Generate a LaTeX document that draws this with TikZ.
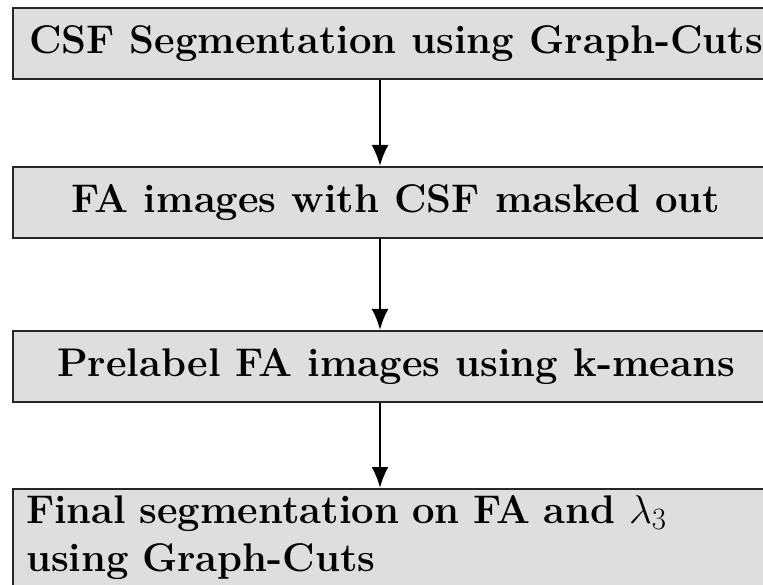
\RequirePackage{fix-cm}
\documentclass[tikz,border=0pt]{standalone}
\usetikzlibrary{arrows.meta}
\DeclareMathSizes{40}{40}{31}{22}
\begin{document}
\begin{tikzpicture}[x=1pt,y=1pt,
  box/.style={draw=black!85, line width=2pt, fill=black!13, inner sep=0pt,
    minimum width=766pt, minimum height=71pt, font=\fontsize{40}{48}\selectfont\bfseries},
  arr/.style={line width=2.6pt, -{Latex[length=21pt,width=17pt]}}]
\useasboundingbox (0,0) rectangle (763,-585);
\node[box, anchor=north west, align=left, text width=740pt, minimum height=0pt, inner xsep=13pt, inner ysep=6pt] (b4) at (12,-488) {Final segmentation on FA and $\lambda_3$\\using Graph-Cuts\rule[-20pt]{0pt}{0pt}};
\node[box, anchor=north west, align=center] (b1) at (12,-7) {CSF Segmentation using Graph-Cuts};
\node[box, anchor=north west, align=center] (b2) at (12,-166) {FA images with CSF masked out};
\node[box, anchor=north west, align=center] (b3) at (12,-330) {Prelabel FA images using k-means};
\draw[arr] (b1.south -| 380,0) -- (b2.north -| 380,0);
\draw[arr] (b2.south -| 380,0) -- (b3.north -| 380,0);
\draw[arr] (b3.south -| 380,0) -- (b4.north -| 380,0);
\end{tikzpicture}
\end{document}
